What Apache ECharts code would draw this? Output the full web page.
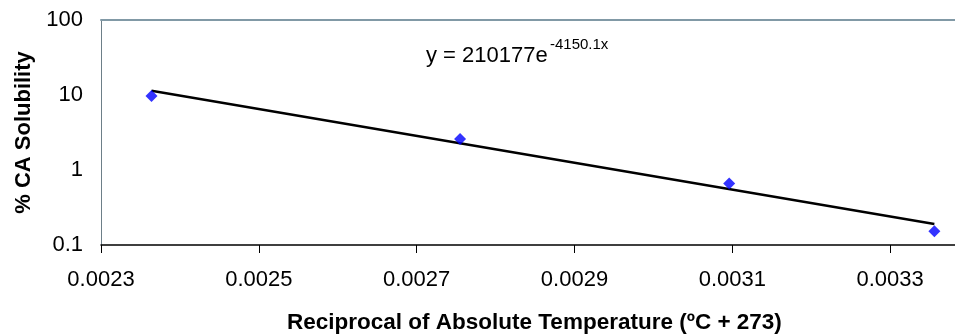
<!DOCTYPE html>
<html>
<head>
<meta charset="utf-8">
<script src="https://cdn.jsdelivr.net/npm/echarts@6/dist/echarts.min.js"></script>
<style>
  html, body { margin: 0; padding: 0; background: #fff; }
  #chart { width: 955px; height: 335px; }
</style>
</head>
<body>
<div id="chart"></div>
<script>
// measured points (1/T, % solubility)
const recipT = [0.002364, 0.002755, 0.003096, 0.003356];
const solubility = [9.7, 2.6, 0.66, 0.152];
// exponential trendline ends
const trendX = [0.002364, 0.003356];
const trendY = [11.4, 0.19];
const xTicks = ['0.0023', '0.0025', '0.0027', '0.0029', '0.0031', '0.0033', '0.0035'];

const FONT = 'Liberation Sans, Arial, sans-serif';

const chart = echarts.init(document.getElementById('chart'));

chart.setOption({
  animation: false,
  backgroundColor: '#fff',
  textStyle: { fontFamily: FONT },
  // plot area runs past the right edge, like the cropped original
  grid: { left: 101, top: 20, bottom: 90, right: -93, outerBoundsMode: 'none', containLabel: false },
  xAxis: [
    {
      type: 'value',
      min: Number(xTicks[0]),
      max: Number(xTicks[xTicks.length - 1]),
      interval: 0.0002,
      axisLine: { show: true, onZero: false, lineStyle: { color: '#000', width: 1.5 } },
      axisTick: { show: true, length: 8, lineStyle: { color: '#000', width: 1 } },
      splitLine: { show: false },
      axisLabel: {
        margin: 24,
        color: '#000',
        fontSize: 22,
        fontFamily: FONT,
        formatter: (v) => v.toFixed(4),
      },
    },
    {
      // top border of plot area
      type: 'value',
      position: 'top',
      min: Number(xTicks[0]),
      max: Number(xTicks[xTicks.length - 1]),
      axisLine: { show: true, onZero: false, lineStyle: { color: '#8199a6', width: 2 } },
      axisTick: { show: false },
      axisLabel: { show: false },
      splitLine: { show: false },
    },
  ],
  yAxis: {
    type: 'log',
    logBase: 10,
    min: 0.1,
    max: 100,
    name: '% CA Solubility',
    nameLocation: 'middle',
    nameGap: 66,
    nameTextStyle: { color: '#000', fontSize: 22, fontWeight: 'bold', fontFamily: FONT },
    axisLine: { show: true, lineStyle: { color: '#6d7f88', width: 1 } },
    axisTick: { show: false },
    splitLine: { show: false },
    axisLabel: {
      margin: 18,
      padding: [8, 0, 0, 0],
      color: '#000',
      fontSize: 22,
      fontFamily: FONT,
      formatter: (v) => String(v),
    },
  },
  graphic: [
    {
      type: 'text',
      left: 287,
      top: 311,
      style: {
        text: 'Reciprocal of Absolute Temperature (ºC + 273)',
        fill: '#000',
        font: 'bold 22.5px ' + FONT,
      },
    },
    {
      type: 'text',
      left: 426,
      top: 45,
      style: { text: 'y = 210177e', fill: '#000', font: '22px ' + FONT },
    },
    {
      type: 'text',
      left: 550,
      top: 37,
      style: { text: '-4150.1x', fill: '#000', font: '15px ' + FONT },
    },
  ],
  series: [
    {
      name: 'Trend',
      type: 'line',
      data: trendX.map((x, i) => [x, trendY[i]]),
      symbol: 'none',
      lineStyle: { color: '#000', width: 2.5 },
      z: 2,
    },
    {
      name: 'Solubility',
      type: 'scatter',
      data: recipT.map((x, i) => [x, solubility[i]]),
      symbol: 'diamond',
      symbolSize: 12,
      itemStyle: { color: '#0000ff' },
      z: 3,
    },
  ],
});
</script>
</body>
</html>
